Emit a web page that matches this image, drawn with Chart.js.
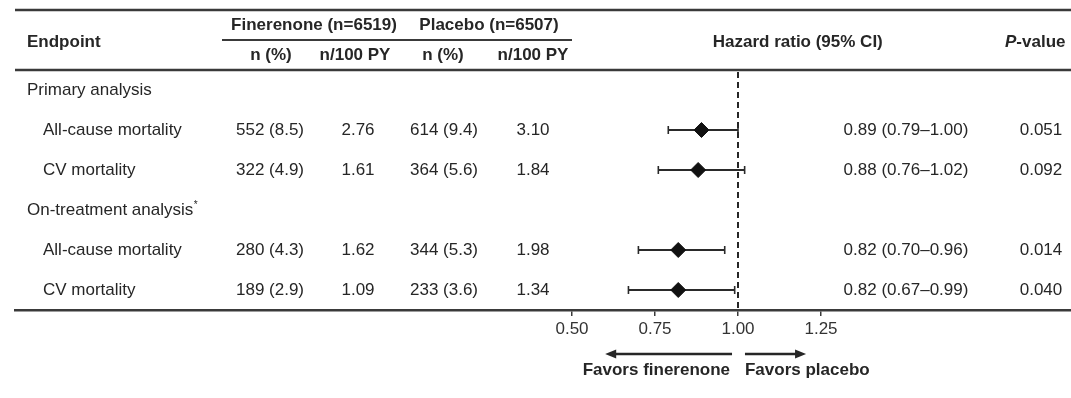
<!DOCTYPE html>
<html>
<head>
<meta charset="utf-8">
<title>Mortality outcomes: finerenone vs placebo</title>
<script src="https://cdn.jsdelivr.net/npm/chart.js@4.4.1/dist/chart.umd.min.js"></script>
<style>
  html, body { margin: 0; padding: 0; background: #ffffff; }
  canvas { display: block; }
</style>
</head>
<body>
<canvas id="forest" width="1071" height="398"></canvas>
<script>
// ---- Data ----
const sections = ['Primary analysis', 'On-treatment analysis'];
const sectionNotes = ['', '*'];
const endpoints = ['All-cause mortality', 'CV mortality', 'All-cause mortality', 'CV mortality'];
const endpointSection = [0, 0, 1, 1];

const finerenoneN = [552, 322, 280, 189];
const finerenonePct = [8.5, 4.9, 4.3, 2.9];
const finerenoneRate = [2.76, 1.61, 1.62, 1.09];

const placeboN = [614, 364, 344, 233];
const placeboPct = [9.4, 5.6, 5.3, 3.6];
const placeboRate = [3.10, 1.84, 1.98, 1.34];

const hazardRatio = [0.89, 0.88, 0.82, 0.82];
const ciLower = [0.79, 0.76, 0.70, 0.67];
const ciUpper = [1.00, 1.02, 0.96, 0.99];
const pValues = ['0.051', '0.092', '0.014', '0.040'];

const tickValues = [0.50, 0.75, 1.00, 1.25];
const groupHeaders = ['Finerenone (n=6519)', 'Placebo (n=6507)'];
const subHeaders = ['n (%)', 'n/100 PY', 'n (%)', 'n/100 PY'];

// ---- Row layout: section headings followed by their endpoints ----
const rows = [];
const itemRow = [];
sections.forEach((name, si) => {
  rows.push({ heading: name, note: sectionNotes[si] });
  endpoints.forEach((e, k) => {
    if (endpointSection[k] === si) {
      itemRow[k] = rows.length;
      rows.push({ item: k });
    }
  });
});

// ---- Styling ----
const FONT = '"Liberation Sans", Arial, Helvetica, sans-serif';
const FS = 17;
const INK = '#262626';
const RULE = '#3a3a3a';

// x pixel columns for the table text
const col = {
  heading: 27, item: 43,
  finN: 270, finRate: 358, plaN: 444, plaRate: 533,
  hrText: 906, pval: 1041, pvalHead: 1005,
  finHead: 314, plaHead: 489, subHead: [271, 355, 443, 533],
  underlineFrom: 222, underlineTo: 572, ruleFrom: 15
};

function font(size, weight, style) {
  return (style || '') + ' ' + (weight || 'normal') + ' ' + size + 'px ' + FONT;
}

function drawArrow(ctx, x1, x2, y) {
  const dir = Math.sign(x2 - x1);
  ctx.beginPath();
  ctx.moveTo(x1, y);
  ctx.lineTo(x2 - dir * 8, y);
  ctx.lineWidth = 2.5;
  ctx.strokeStyle = INK;
  ctx.stroke();
  ctx.beginPath();
  ctx.moveTo(x2, y);
  ctx.lineTo(x2 - dir * 11, y - 4.5);
  ctx.lineTo(x2 - dir * 11, y + 4.5);
  ctx.closePath();
  ctx.fillStyle = INK;
  ctx.fill();
}

const forestTable = {
  id: 'forestTable',
  beforeDatasetsDraw(chart) {
    const { ctx, scales: { x, y }, chartArea } = chart;
    ctx.save();

    // horizontal rules: top, header underline, below header
    ctx.strokeStyle = RULE;
    ctx.lineWidth = 2.5;
    [-2, -0.5].forEach(v => {
      const py = y.getPixelForValue(v);
      ctx.beginPath();
      ctx.moveTo(col.ruleFrom, py);
      ctx.lineTo(chartArea.right, py);
      ctx.stroke();
    });
    ctx.lineWidth = 1.8;
    const uy = y.getPixelForValue(-1.25);
    ctx.beginPath();
    ctx.moveTo(col.underlineFrom, uy);
    ctx.lineTo(col.underlineTo, uy);
    ctx.stroke();

    // reference line at HR = 1
    const x1 = x.getPixelForValue(1);
    ctx.setLineDash([6, 4]);
    ctx.lineWidth = 2;
    ctx.strokeStyle = INK;
    ctx.beginPath();
    ctx.moveTo(x1, y.getPixelForValue(-0.45));
    ctx.lineTo(x1, chartArea.bottom);
    ctx.stroke();
    ctx.setLineDash([]);

    // confidence intervals
    hazardRatio.forEach((v, k) => {
      const py = y.getPixelForValue(itemRow[k]);
      const xl = x.getPixelForValue(ciLower[k]);
      const xh = x.getPixelForValue(ciUpper[k]);
      ctx.strokeStyle = '#2a2a2a';
      ctx.lineWidth = 2;
      ctx.beginPath();
      ctx.moveTo(xl, py);
      ctx.lineTo(xh, py);
      ctx.stroke();
      ctx.lineWidth = 1.6;
      [xl, xh].forEach(px => {
        ctx.beginPath();
        ctx.moveTo(px, py - 4);
        ctx.lineTo(px, py + 4);
        ctx.stroke();
      });
    });
    ctx.restore();
  },
  afterDatasetsDraw(chart) {
    const { ctx, scales: { x, y }, chartArea } = chart;
    ctx.save();
    ctx.fillStyle = INK;
    ctx.textBaseline = 'middle';

    // column headers
    ctx.font = font(FS, 'bold');
    ctx.textAlign = 'left';
    ctx.fillText('Endpoint', col.heading, y.getPixelForValue(-1.2));
    ctx.textAlign = 'center';
    ctx.fillText(groupHeaders[0], col.finHead, y.getPixelForValue(-1.62));
    ctx.fillText(groupHeaders[1], col.plaHead, y.getPixelForValue(-1.62));
    subHeaders.forEach((t, i) => ctx.fillText(t, col.subHead[i], y.getPixelForValue(-0.87)));
    ctx.fillText('Hazard ratio (95% CI)', x.getPixelForValue(1.18), y.getPixelForValue(-1.2));
    ctx.textAlign = 'left';
    ctx.font = font(FS, 'bold', 'italic');
    ctx.fillText('P', col.pvalHead, y.getPixelForValue(-1.2));
    const pw = ctx.measureText('P').width;
    ctx.font = font(FS, 'bold');
    ctx.fillText('-value', col.pvalHead + pw, y.getPixelForValue(-1.2));

    // body rows
    rows.forEach((r, i) => {
      const py = y.getPixelForValue(i);
      if (r.heading !== undefined) {
        ctx.font = font(FS);
        ctx.textAlign = 'left';
        ctx.fillText(r.heading, col.heading, py);
        if (r.note) {
          const w = ctx.measureText(r.heading).width;
          ctx.font = font(10);
          ctx.fillText(r.note, col.heading + w + 0.5, py - 5);
        }
        return;
      }
      const k = r.item;
      ctx.font = font(FS);
      ctx.textAlign = 'left';
      ctx.fillText(endpoints[k], col.item, py);
      ctx.textAlign = 'center';
      ctx.fillText(finerenoneN[k] + ' (' + finerenonePct[k].toFixed(1) + ')', col.finN, py);
      ctx.fillText(finerenoneRate[k].toFixed(2), col.finRate, py);
      ctx.fillText(placeboN[k] + ' (' + placeboPct[k].toFixed(1) + ')', col.plaN, py);
      ctx.fillText(placeboRate[k].toFixed(2), col.plaRate, py);
      ctx.fillText(hazardRatio[k].toFixed(2) + ' (' + ciLower[k].toFixed(2) + '\u2013' + ciUpper[k].toFixed(2) + ')', col.hrText, py);
      ctx.fillText(pValues[k], col.pval, py);
    });

    // direction arrows below the axis
    const ay = chartArea.bottom + 44;
    drawArrow(ctx, x.getPixelForValue(0.982), x.getPixelForValue(0.60), ay);
    drawArrow(ctx, x.getPixelForValue(1.021), x.getPixelForValue(1.205), ay);
    ctx.font = font(FS, 'bold');
    ctx.fillStyle = INK;
    ctx.textAlign = 'right';
    ctx.fillText('Favors finerenone', x.getPixelForValue(0.976), chartArea.bottom + 60);
    ctx.textAlign = 'left';
    ctx.fillText('Favors placebo', x.getPixelForValue(1.021), chartArea.bottom + 60);
    ctx.restore();
  }
};

// x range chosen so that HR 1.00 sits at the dashed reference column
const xMin = 1 - 723 / 332;
const xMax = 1 + 333 / 332;

new Chart(document.getElementById('forest'), {
  type: 'scatter',
  data: {
    datasets: [{
      label: 'Hazard ratio',
      data: hazardRatio.map((v, k) => ({ x: v, y: itemRow[k] })),
      pointStyle: 'rectRot',
      pointRadius: 7.5,
      pointHoverRadius: 7.5,
      backgroundColor: '#111111',
      borderColor: '#111111',
      borderWidth: 1
    }]
  },
  options: {
    responsive: false,
    devicePixelRatio: 1,
    animation: false,
    events: [],
    layout: { autoPadding: false, padding: { left: 15, right: 0, top: 10, bottom: 0 } },
    plugins: { legend: { display: false }, tooltip: { enabled: false } },
    scales: {
      x: {
        type: 'linear',
        min: xMin,
        max: xMax,
        afterBuildTicks: s => { s.ticks = tickValues.map(v => ({ value: v })); },
        afterFit: s => { s.height = 88; },
        border: { display: true, color: RULE, width: 2.5 },
        grid: { drawOnChartArea: false, drawTicks: true, tickLength: 6, color: RULE, lineWidth: 1.5 },
        ticks: {
          autoSkip: false,
          maxRotation: 0,
          padding: 3,
          color: '#333333',
          font: { family: FONT, size: FS },
          callback: v => Number(v).toFixed(2)
        }
      },
      y: { type: 'linear', min: -2, max: 5.5, reverse: true, display: false }
    }
  },
  plugins: [forestTable]
});
</script>
</body>
</html>
